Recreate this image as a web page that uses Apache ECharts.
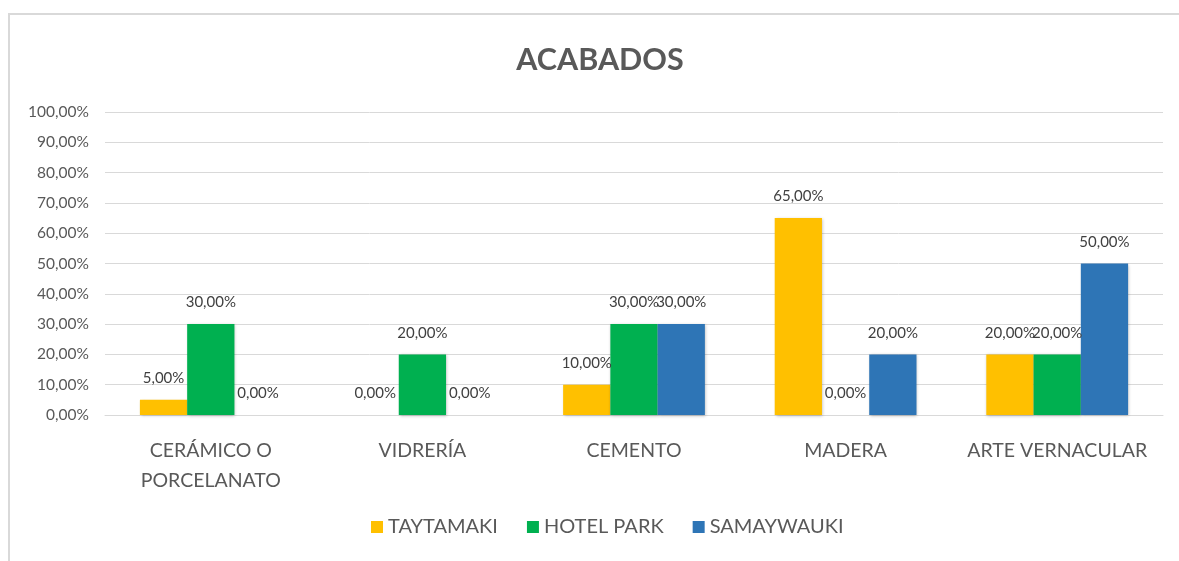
<!DOCTYPE html>
<html>
<head>
<meta charset="utf-8">
<script src="https://cdn.jsdelivr.net/npm/echarts@6/dist/echarts.min.js"></script>
<style>
html,body{margin:0;padding:0;background:#fff;}
#c{width:1179px;height:561px;}
</style>
</head>
<body>
<div id="c"></div>
<script>
const categories = ['CERÁMICO O\nPORCELANATO', 'VIDRERÍA', 'CEMENTO', 'MADERA', 'ARTE VERNACULAR'];
const taytamaki = [5, 0, 10, 65, 20];
const hotelPark = [30, 20, 30, 0, 20];
const samaywauki = [0, 0, 30, 20, 50];
const yTicks = [0, 10, 20, 30, 40, 50, 60, 70, 80, 90, 100];

const fmt = v => v.toFixed(2).replace('.', ',') + '%';
const FONT = 'Lato, "Open Sans", sans-serif';

const chart = echarts.init(document.getElementById('c'));
function mk(name, data, color) {
  return {
    name, type: 'bar', data, barGap: '0%', barCategoryGap: '33%',
    itemStyle: { color, shadowBlur: 3, shadowColor: 'rgba(0,0,0,0.25)', shadowOffsetX: 1, shadowOffsetY: 1 },
    label: { show: true, position: 'top', distance: 14, color: '#404040', fontSize: 15, fontFamily: FONT, formatter: p => fmt(p.value) }
  };
}
chart.setOption({
  animation: false,
  backgroundColor: '#fff',
  graphic: [{ type: 'rect', shape: { x: 9, y: 14, width: 1180, height: 560 }, style: { fill: 'none', stroke: '#d9d9d9', lineWidth: 2 }, silent: true }],
  title: { text: 'ACABADOS', left: 600, textAlign: 'center', top: 40, textStyle: { fontFamily: FONT, fontSize: 30.5, fontWeight: 'bold', color: '#595959' } },
  legend: {
    bottom: 19, left: 366, itemWidth: 12, itemHeight: 12, itemGap: 29, icon: 'rect',
    textStyle: { fontFamily: FONT, fontSize: 20, color: '#595959' },
    data: ['TAYTAMAKI', 'HOTEL PARK', 'SAMAYWAUKI']
  },
  grid: { left: 105, right: 16, top: 112, bottom: 146 },
  xAxis: {
    type: 'category', data: categories,
    axisLine: { lineStyle: { color: '#d9d9d9', width: 1 } },
    axisTick: { show: false },
    axisLabel: { fontFamily: FONT, fontSize: 19.5, color: '#595959', margin: 21, lineHeight: 30, interval: 0 }
  },
  yAxis: {
    type: 'value', min: 0, max: 100, interval: 10,
    axisLine: { show: false }, axisTick: { show: false },
    splitLine: { lineStyle: { color: '#d9d9d9', width: 1 } },
    axisLabel: { fontFamily: FONT, fontSize: 15.5, color: '#595959', margin: 16, formatter: v => yTicks.includes(v) ? fmt(v) : '' }
  },
  series: [
    mk('TAYTAMAKI', taytamaki, '#FFC000'),
    mk('HOTEL PARK', hotelPark, '#00B050'),
    mk('SAMAYWAUKI', samaywauki, '#2E75B6')
  ]
});
chart.setOption({ title: { left: 595 } });
</script>
</body>
</html>
